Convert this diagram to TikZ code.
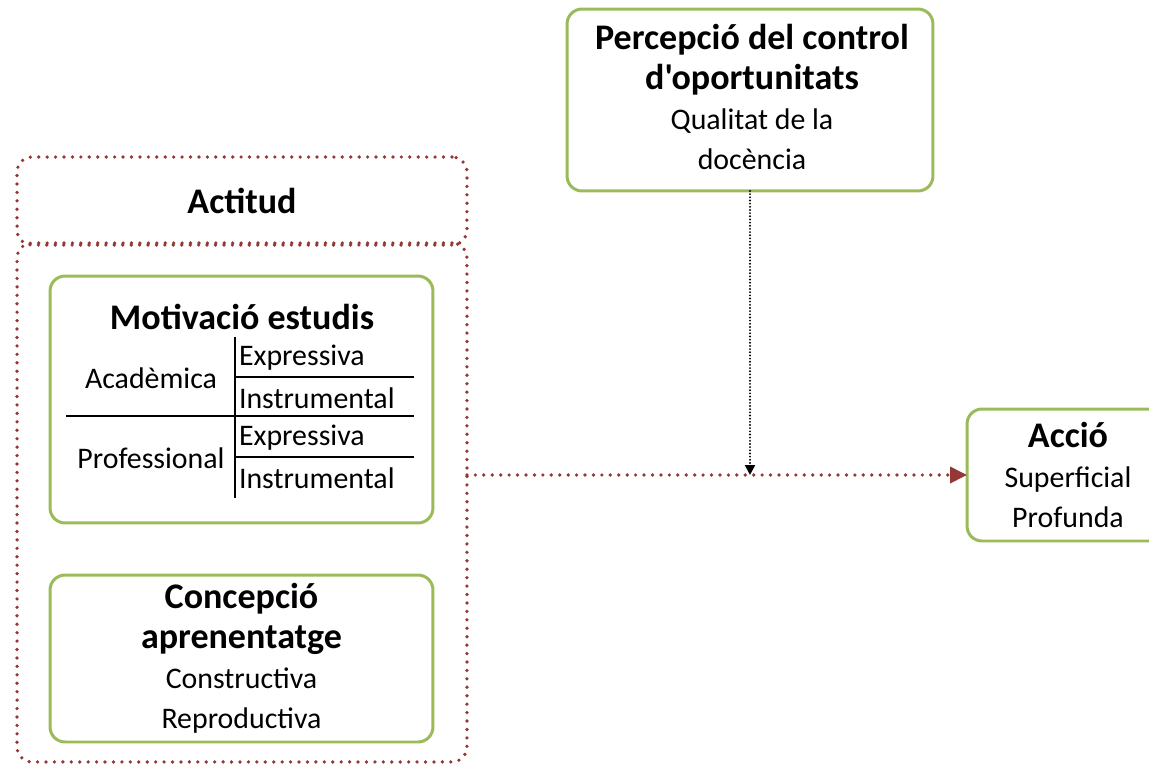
\documentclass[tikz,border=0pt]{standalone}
\usepackage{fontspec}
\setmainfont{Carlito}[Ligatures=TeXOff]
\usetikzlibrary{arrows.meta}
\definecolor{boxgreen}{RGB}{155,187,89}
\definecolor{dotred}{RGB}{149,55,53}
\newcommand\hd[1]{{\fontsize{20.5pt}{22.7pt}\selectfont\bfseries #1}}

\begin{document}
\begin{tikzpicture}[x=0.02cm, y=-0.02cm,
    every node/.style={font=\fontsize{17pt}{22.7pt}\selectfont, inner sep=0pt, outer sep=0pt},
    greenbox/.style={draw=boxgreen, line width=1.7pt, rounded corners=0.3cm, align=center},
    redbox/.style={draw=dotred, line width=2.1pt, line cap=round, dash pattern=on 0pt off 4.8pt, rounded corners=0.3cm},
    redline/.style={draw=dotred, line width=2.1pt, line cap=round, dash pattern=on 0pt off 4.8pt},
    blackline/.style={line width=1.2pt, line cap=round, dash pattern=on 0pt off 1.8pt},
    rule/.style={line width=1.6pt}]
  \useasboundingbox (0,0) rectangle (1149,764);

  % actitud frame
  \node[redbox, minimum width=9cm, minimum height=1.76cm] (hdr) at (242,201) {\hd{Actitud}};
  \node[redbox, minimum width=9cm, minimum height=10.38cm] (body) at (242,502.5) {};

  % motivacio
  \node[greenbox, minimum width=7.66cm, minimum height=4.94cm] (motiv) at (241.5,399.5) {};
  \node (mt) at (242,317) {\hd{Motivació estudis}};
  \node (acad) at (151,378) {Acadèmica};
  \node (prof) at (151,458) {Professional};
  \node[anchor=west] (ae) at (239,358) {Expressiva};
  \node[anchor=west] (ai) at (239,398) {Instrumental};
  \node[anchor=west] (pe) at (239,438) {Expressiva};
  \node[anchor=west] (pi) at (239,478) {Instrumental};
  \coordinate (vt) at (235,337);
  \coordinate (vb) at (235,498);
  \coordinate (hl) at (66,416);
  \coordinate (hr) at (414,416);
  \draw[rule] (vt) -- (vb);
  \draw[rule] (hl) -- (hr);
  \draw[rule] (235,377) -- (414,377);
  \draw[rule] (235,457) -- (414,457);

  % concepcio
  \node[greenbox, minimum width=7.66cm, minimum height=3.34cm] (conc) at (241.5,658.5)
    {\hd{Concepció}\\\hd{aprenentatge}\\Constructiva\\Reproductiva};

  % percepcio
  \node[greenbox, minimum width=7.32cm, minimum height=3.64cm] (perc) at (750,100) {};
  \node[align=center] (perctxt) at (752,97)
    {\hd{Percepció del control}\\\hd{d'oportunitats}\\Qualitat de la\\docència};

  % accio
  \node[greenbox, minimum width=4.04cm, minimum height=2.64cm] (accio) at (1068,475)
    {\hd{Acció}\\Superficial\\Profunda};

  \draw[redline, -{Triangle[length=0.34cm, width=0.32cm, fill=dotred]}] (body.east |- accio.west) -- (accio.west);
  \draw[blackline, -{Triangle[length=0.2cm, width=0.2cm]}] (perc.south) -- (perc.south |- accio.west);
\end{tikzpicture}
\end{document}
